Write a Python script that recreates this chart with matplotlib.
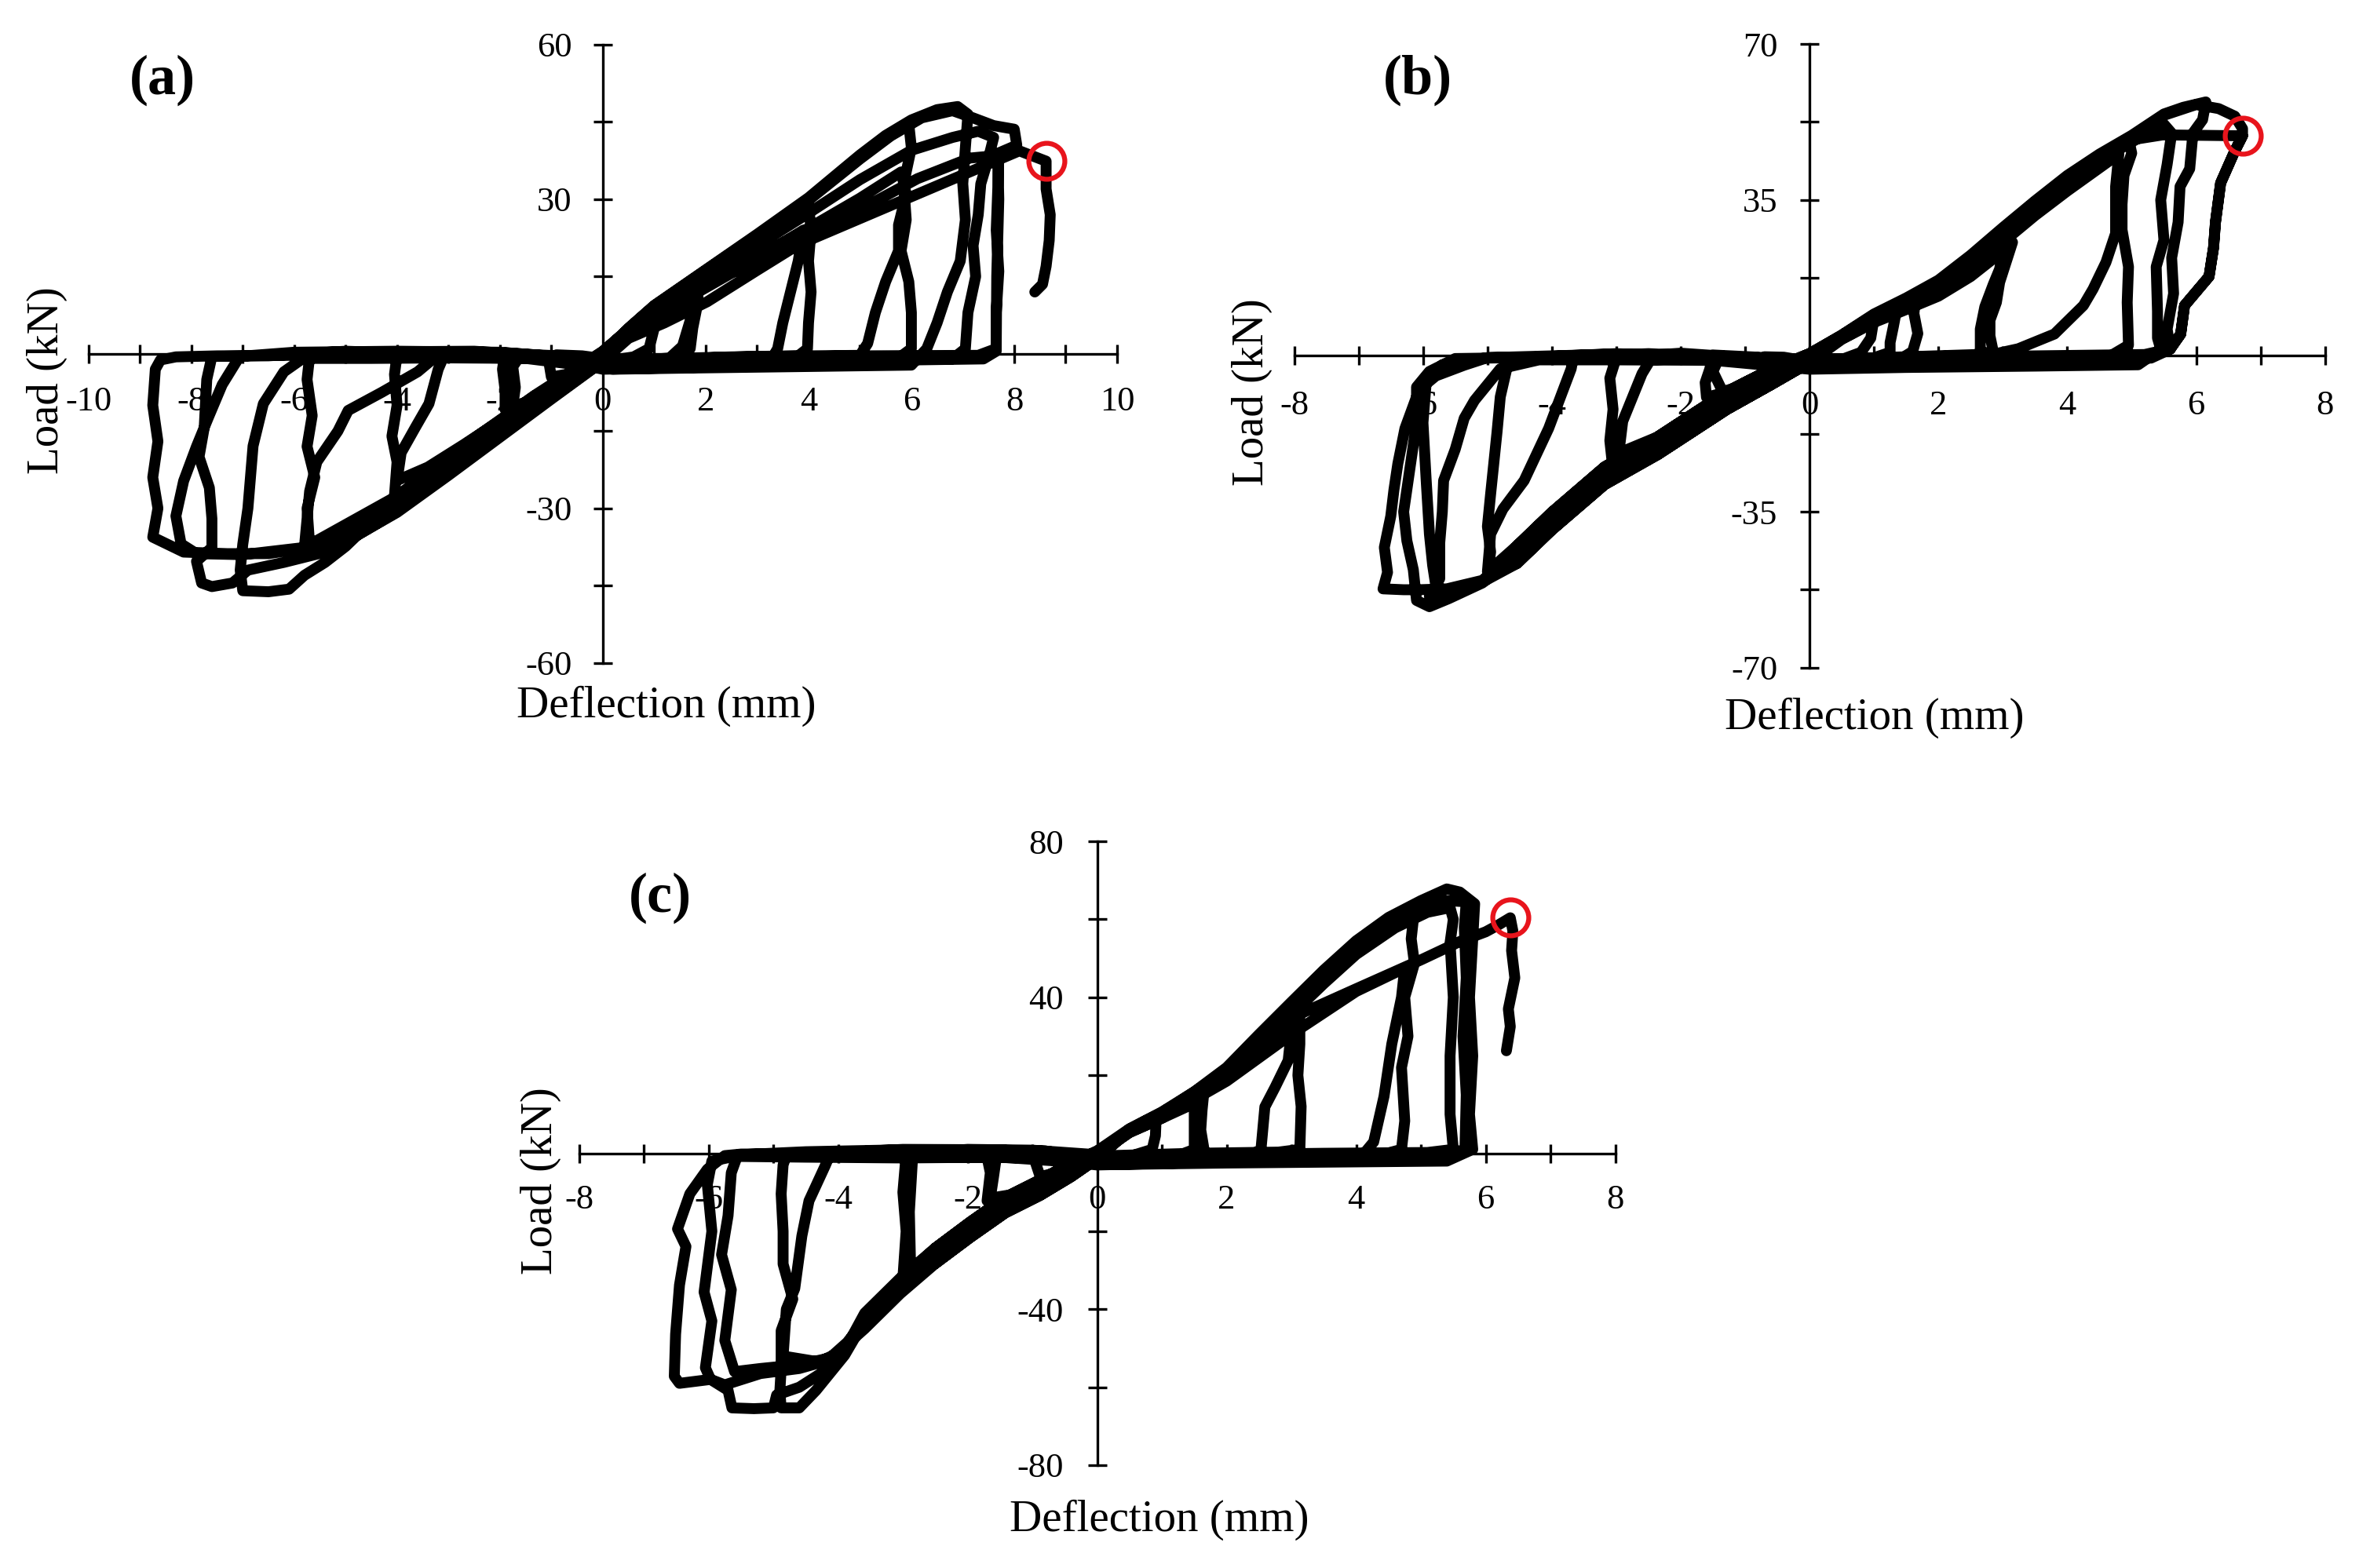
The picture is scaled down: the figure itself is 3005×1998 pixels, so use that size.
import numpy as np
import matplotlib
matplotlib.use('Agg')
import matplotlib.pyplot as plt
from matplotlib.ticker import FixedLocator, NullFormatter

plt.rcParams['font.family'] = ['Liberation Serif', 'DejaVu Serif']
plt.rcParams['axes.unicode_minus'] = False

W, H, DPI = 3005, 1998, 100

# ---------------- data: (deflection mm, load kN) load history per specimen
loop_a = [
    # cycle 1
    (0.0, 0.0), (0.3, 2.8), (0.6, 5.3), (0.95, 8.3), (1.0, 5.0), (0.9, 1.0), (0.6, -0.6), (0.2, -1.2),
    (-0.4, -0.4), (-0.9, -0.2), (-1.05, -1.5), (-1.0, -4.5), (-0.6, -3.8), (-0.2, -1.5), (0.0, 0.0),
    # cycle 2
    (0.5, 4.6), (1.0, 8.9), (1.4, 11.6), (1.85, 14.2), (1.85, 10.0), (1.75, 5.0), (1.7, 1.0), (1.5, -0.9),
    (0.8, -1.3), (0.1, -1.6),
    (-0.6, -0.5), (-1.3, -0.2), (-1.9, 0.2), (-1.95, -3.0), (-1.9, -7.0), (-1.9, -10.8), (-1.5, -9.6),
    (-1.0, -6.8), (-0.5, -3.6), (0.0, -0.3),
    # cycle 3
    (0.5, 3.8), (1.0, 7.0), (1.5, 9.5), (1.75, 10.6), (1.7, 6.5), (1.55, 1.5), (1.3, -0.8), (0.6, -1.4), (0.0, -1.5),
    (-0.8, -0.4), (-1.6, -0.3), (-1.75, -2.5), (-1.7, -6.5), (-1.75, -10.2), (-1.3, -8.8), (-0.7, -5.0), (0.0, -0.2),
    # cycle 4
    (0.5, 4.8), (1.0, 9.2), (1.5, 12.4), (2.0, 15.8), (2.5, 19.2), (3.0, 22.6), (3.5, 25.8), (4.0, 29.0),
    (4.05, 24.0), (4.0, 18.0), (4.05, 12.0), (4.0, 6.0), (3.98, 1.0), (3.8, -0.4), (3.0, -0.5), (2.0, -0.8),
    (1.0, -1.2), (0.3, -1.8),
    (-0.5, -0.6), (-1.5, -0.3), (-2.5, 0.4), (-3.5, 0.3), (-4.0, -0.2), (-4.05, -4.0), (-4.0, -10.0),
    (-4.1, -16.0), (-4.0, -21.0), (-4.05, -27.5), (-3.4, -25.2), (-2.7, -20.5), (-2.0, -15.8), (-1.33, -10.8),
    (-0.6, -5.6), (0.0, -1.2),
    # cycle 5
    (0.5, 3.6), (1.0, 7.2), (2.0, 12.8), (3.0, 18.5), (3.9, 24.0), (3.8, 18.0), (3.65, 12.0), (3.5, 6.0),
    (3.4, 1.0), (3.2, -2.4), (2.0, -2.6), (1.0, -2.8), (0.0, -3.0),
    (-1.0, -0.9), (-2.2, -0.8), (-3.1, -0.7), (-3.2, -3.0), (-3.38, -9.7), (-3.65, -14.4), (-3.92, -19.2),
    (-4.0, -24.6), (-3.4, -22.0), (-2.7, -17.6), (-2.0, -13.0), (-1.33, -8.2), (-0.6, -3.8), (0.0, 0.3),
    # cycle 6
    (0.5, 4.9), (1.0, 9.3), (2.0, 16.2), (3.0, 23.0), (4.0, 30.0), (5.0, 38.3), (5.5, 41.8), (5.95, 44.6),
    (6.0, 40.0), (5.85, 33.0), (5.9, 26.0), (5.8, 20.0), (5.95, 14.0), (6.0, 8.0), (6.0, 1.0), (5.7, -1.2),
    (4.5, -1.4), (3.0, -1.7), (1.5, -2.0), (0.2, -2.4),
    (-1.0, -0.5), (-2.5, 0.5), (-4.0, 0.4), (-5.2, -0.4), (-5.7, -0.5), (-5.75, -5.0), (-5.65, -12.0),
    (-5.75, -18.0), (-5.6, -24.0), (-5.75, -30.0), (-5.7, -37.0), (-5.0, -36.5), (-4.0, -30.8), (-3.0, -23.6),
    (-2.0, -16.2), (-1.0, -8.8), (0.0, -1.5),
    # cycle 7
    (0.5, 3.9), (1.0, 7.6), (2.0, 13.2), (3.0, 18.8), (4.0, 24.4), (5.0, 30.2), (5.8, 35.3), (5.9, 31.0),
    (5.75, 25.0), (5.75, 20.0), (5.5, 14.0), (5.3, 8.0), (5.15, 2.0), (5.0, -0.3), (4.0, -0.4), (2.5, -0.6),
    (1.0, -1.0), (0.0, -1.4),
    (-1.2, -0.4), (-2.4, -0.2), (-3.24, -0.5), (-3.6, -3.5), (-4.3, -7.5), (-4.95, -11.0), (-5.15, -15.0),
    (-5.56, -21.0), (-5.7, -26.7), (-5.75, -32.0), (-5.8, -37.4), (-4.8, -34.0), (-4.0, -29.0), (-3.0, -21.8),
    (-2.0, -14.4), (-1.0, -7.2), (0.0, -0.4),
    # cycle 8
    (0.5, 5.0), (1.0, 9.4), (2.0, 16.3), (3.0, 23.2), (4.0, 30.3), (5.0, 38.6), (5.5, 42.4), (6.0, 45.4),
    (6.5, 47.4), (6.9, 48.0), (7.1, 46.5), (7.05, 40.0), (7.0, 33.0), (7.05, 26.0), (6.95, 18.0), (6.7, 12.0),
    (6.5, 6.0), (6.3, 1.0), (6.0, -2.2), (4.5, -2.4), (3.0, -2.6), (1.5, -2.8), (0.2, -3.0),
    (-1.5, -0.9), (-3.0, -0.8), (-4.5, -0.9), (-5.83, -0.9), (-6.2, -3.5), (-6.6, -9.7), (-6.8, -17.9),
    (-6.85, -24.0), (-6.9, -30.0), (-7.0, -37.0), (-7.05, -42.0), (-7.0, -46.0), (-6.5, -46.2), (-6.1, -45.7),
    (-5.8, -43.0), (-5.4, -40.5), (-5.0, -37.4), (-4.0, -27.8), (-3.0, -20.6), (-2.0, -13.3), (-1.0, -6.3),
    (0.0, 0.4),
    # cycle 9
    (0.5, 4.8), (1.0, 9.0), (2.0, 16.0), (3.0, 22.8), (4.0, 29.8), (5.0, 37.8), (5.6, 42.3), (6.2, 45.8),
    (6.8, 47.2), (7.2, 45.8), (7.6, 44.3), (8.0, 43.6), (8.05, 40.5), (7.7, 39.0), (7.68, 32.0), (7.65, 24.0),
    (7.7, 16.0), (7.65, 8.0), (7.65, 0.5), (7.4, -1.0), (6.0, -1.2), (4.0, -1.4), (2.0, -1.8), (0.3, -2.0),
    (-1.5, -0.4), (-3.0, -0.2), (-5.0, 0.5), (-6.5, -0.4), (-7.6, -0.5), (-7.7, -5.0), (-7.75, -14.4),
    (-7.85, -20.0), (-7.65, -26.0), (-7.6, -32.0), (-7.6, -37.6), (-7.9, -40.3), (-7.8, -44.5), (-7.6, -45.2),
    (-7.2, -44.5), (-6.9, -42.0), (-6.2, -40.5), (-5.4, -38.5), (-5.0, -36.5), (-4.0, -29.4), (-3.0, -22.0),
    (-2.0, -14.5), (-1.0, -7.4), (0.0, -0.5),
    # cycle 10
    (0.5, 4.2), (1.0, 8.2), (2.0, 14.5), (3.0, 21.0), (4.0, 27.3), (5.0, 33.8), (6.0, 39.5), (6.8, 42.0),
    (7.3, 43.2), (7.6, 42.0), (7.5, 38.0), (7.35, 33.0), (7.3, 27.0), (7.2, 21.0), (7.25, 15.0), (7.1, 8.0),
    (7.05, 1.0), (6.8, -1.0), (5.0, -1.2), (3.0, -1.5), (1.0, -1.9), (0.0, -2.0),
    (-2.0, -0.3), (-4.0, -0.2), (-6.0, -0.3), (-7.5, -0.4), (-8.3, -0.6), (-8.6, -1.2), (-8.7, -3.0),
    (-8.75, -10.0), (-8.65, -17.0), (-8.75, -24.0), (-8.65, -30.0), (-8.75, -35.6), (-8.15, -38.5),
    (-7.3, -38.8), (-6.5, -38.8), (-5.83, -37.8), (-5.0, -36.6), (-4.06, -31.0), (-2.7, -21.0), (-1.33, -11.0),
    (0.0, -1.4),
    # cycle 11
    (0.5, 3.0), (1.2, 6.0), (2.03, 10.1), (3.0, 16.2), (4.0, 22.4), (5.0, 28.0), (6.12, 34.0), (7.14, 38.0),
    (7.68, 38.5), (7.7, 30.0), (7.66, 15.0), (7.65, 1.0), (7.3, -0.3), (5.0, -0.4), (2.5, -0.7), (0.0, -1.2),
    (-2.0, 0.3), (-4.0, 0.5), (-6.0, 0.3), (-7.06, -0.5), (-7.4, -6.0), (-7.67, -12.4), (-7.9, -18.0),
    (-8.15, -24.7), (-8.3, -31.5), (-8.2, -36.9), (-7.9, -38.8), (-7.0, -39.0), (-5.8, -37.6), (-4.0, -27.6),
    (-2.7, -17.8), (-1.33, -8.1), (0.0, 0.5),
    # final loading
    (0.5, 4.8), (1.0, 9.0), (1.3, 10.8), (2.0, 13.6), (4.0, 22.0), (6.0, 30.5), (8.1, 39.4), (8.62, 37.4),
    (8.62, 32.0), (8.7, 27.0), (8.68, 22.0), (8.62, 17.0), (8.55, 13.5), (8.4, 12.0),
]

loop_b = [
    # cycle 1
    (0.0, 0.0), (0.4, 3.4), (0.7, 6.0), (1.0, 8.4), (0.95, 4.0), (0.8, 0.8), (0.5, -0.8), (0.1, -1.5),
    (-0.4, -0.3), (-0.7, -0.2), (-0.75, -2.5), (-0.6, -4.5), (-0.3, -2.5), (0.0, -0.2),
    # cycle 2
    (0.5, 4.5), (1.0, 9.0), (1.65, 13.8), (1.62, 9.5), (1.68, 5.0), (1.6, 1.0), (1.4, -0.8), (0.6, -1.2),
    (0.0, -1.4),
    (-0.8, -0.3), (-1.5, 0.2), (-1.55, -3.0), (-1.62, -6.0), (-1.6, -9.3), (-1.0, -7.0), (-0.5, -4.0),
    (0.0, -0.5),
    # cycle 3
    (0.5, 3.8), (1.0, 7.6), (1.35, 10.3), (1.3, 6.5), (1.25, 3.0), (1.25, 0.8), (0.9, -0.9), (0.2, -1.3),
    (-0.8, -0.4), (-1.4, -0.3), (-1.5, -3.5), (-1.35, -8.0), (-0.8, -5.8), (0.0, -0.4),
    # cycle 4
    (0.5, 4.0), (1.0, 8.2), (1.5, 11.0), (2.0, 14.0), (2.5, 18.6), (2.85, 22.5), (3.15, 25.5), (3.05, 21.0),
    (2.95, 16.5), (2.9, 12.0), (2.8, 8.0), (2.8, 4.5), (2.85, 1.0), (2.6, 0.3), (1.5, -0.2), (0.2, -0.8),
    (-1.0, -0.4), (-2.0, 0.6), (-3.0, -0.4), (-3.1, -5.0), (-3.05, -12.0), (-3.1, -19.0), (-3.05, -25.7),
    (-2.36, -22.2), (-1.28, -12.0), (-0.6, -6.5), (0.0, -1.5),
    # cycle 5
    (0.5, 3.7), (1.0, 7.5), (1.5, 10.4), (2.0, 13.4), (2.5, 17.8), (3.0, 23.5), (2.95, 19.5), (2.85, 16.0),
    (2.72, 11.0), (2.65, 6.0), (2.65, 1.0), (2.4, -2.0), (1.2, -2.4), (0.0, -2.8),
    (-1.0, -0.8), (-2.0, -0.7), (-2.47, -0.9), (-2.6, -4.0), (-2.9, -14.7), (-2.96, -21.8), (-2.36, -18.2),
    (-1.28, -8.0), (-0.6, -3.0), (0.0, 0.5),
    # cycle 6
    (0.5, 4.6), (1.0, 9.2), (1.5, 12.6), (2.0, 16.6), (2.5, 21.8), (3.0, 28.0), (3.5, 34.4), (4.0, 40.2),
    (4.5, 45.0), (4.95, 48.8), (5.0, 45.5), (4.88, 40.5), (4.85, 34.0), (4.85, 28.3), (4.95, 20.0),
    (4.93, 12.0), (4.95, 2.4), (4.6, -0.6), (3.5, -0.9), (2.0, -1.2), (0.5, -1.6),
    (-1.0, -0.5), (-2.5, 0.5), (-4.0, -0.4), (-4.65, -0.8), (-4.7, -2.9), (-4.8, -9.2), (-4.85, -17.0),
    (-4.9, -24.0), (-4.95, -31.0), (-5.0, -38.3), (-4.95, -44.0), (-5.0, -49.5), (-4.54, -46.6),
    (-4.0, -39.1), (-3.18, -28.9), (-2.36, -22.2), (-1.28, -12.0), (-0.6, -6.5), (0.0, -1.5),
    # cycle 7
    (0.5, 4.0), (1.0, 8.0), (1.5, 11.0), (2.0, 14.6), (2.5, 19.5), (3.0, 25.5), (3.5, 31.5), (4.0, 37.0),
    (4.5, 42.2), (4.8, 45.3), (4.75, 38.0), (4.75, 27.5), (4.6, 21.0), (4.4, 15.0), (4.25, 11.3), (3.8, 4.9),
    (3.24, 1.6), (2.8, 0.2), (1.5, -0.3), (0.0, -0.8),
    (-1.0, -0.4), (-2.5, -0.3), (-3.67, -0.5), (-3.7, -2.9), (-4.05, -16.3), (-4.43, -28.0), (-4.76, -34.4),
    (-4.95, -40.0), (-5.0, -48.5), (-4.54, -42.6), (-4.0, -35.1), (-3.18, -24.9), (-2.36, -18.2),
    (-1.28, -8.0), (-0.6, -3.0), (0.0, 0.5),
    # cycle 8
    (0.5, 4.7), (1.0, 9.4), (1.5, 13.0), (2.0, 17.0), (2.5, 22.6), (3.0, 28.8), (3.5, 34.8), (4.0, 40.5),
    (4.5, 45.3), (5.0, 49.5), (5.5, 54.3), (5.8, 55.8), (6.15, 57.0), (6.1, 53.0), (5.95, 50.0), (5.9, 42.0),
    (5.75, 38.0), (5.72, 30.0), (5.62, 22.0), (5.65, 14.0), (5.55, 6.0), (5.6, 1.5), (5.3, -0.5), (4.0, -0.8),
    (2.5, -1.1), (1.0, -1.4), (0.0, -1.8),
    (-1.5, -0.4), (-3.0, 0.5), (-4.5, -0.4), (-5.5, -0.6), (-5.9, -3.5), (-6.1, -7.0), (-6.1, -15.0),
    (-6.2, -25.0), (-6.3, -35.0), (-6.25, -41.5), (-6.15, -48.0), (-6.1, -54.9), (-5.9, -56.3), (-5.6, -54.5),
    (-5.08, -51.0), (-4.54, -45.0), (-4.0, -37.4), (-3.18, -27.2), (-2.36, -20.4), (-1.28, -10.2),
    (-0.6, -4.9), (0.0, -0.6),
    # cycle 9
    (0.5, 4.2), (1.0, 8.5), (1.5, 11.6), (2.0, 15.2), (2.5, 20.6), (3.0, 26.8), (3.5, 33.0), (4.0, 38.6),
    (4.5, 43.8), (5.0, 48.0), (5.5, 52.0), (5.62, 50.0), (5.55, 43.0), (5.45, 35.0), (5.5, 26.0),
    (5.38, 20.0), (5.4, 10.0), (5.4, 4.0), (5.45, 1.5), (5.1, -2.0), (3.5, -2.3), (1.5, -2.6), (0.0, -3.0),
    (-1.5, -1.0), (-3.0, -0.9), (-4.2, -0.9), (-4.8, -2.9), (-5.2, -10.0), (-5.36, -14.0), (-5.5, -21.0),
    (-5.68, -28.0), (-5.7, -35.0), (-5.74, -42.0), (-5.74, -50.0), (-5.9, -54.0), (-5.63, -52.8),
    (-5.08, -50.6), (-4.54, -42.6), (-4.0, -35.1), (-3.18, -24.9), (-2.36, -18.2), (-1.28, -8.0),
    (-0.6, -3.0), (0.0, 0.5),
    # cycle 10
    (0.5, 4.4), (1.0, 8.8), (1.5, 12.0), (2.0, 15.6), (2.5, 21.0), (3.0, 27.4), (3.5, 33.6), (4.0, 39.5),
    (4.5, 44.5), (5.0, 48.5), (5.48, 49.6), (6.72, 49.4), (6.6, 46.0), (6.38, 38.8), (6.3, 30.0),
    (6.27, 24.3), (6.2, 17.8), (5.82, 11.3), (5.76, 4.9), (5.6, 1.6), (5.2, 0.3), (3.5, 0.0), (1.5, -0.4),
    (0.0, -1.0),
    (-1.5, -0.4), (-3.0, 0.4), (-5.0, -0.4), (-5.7, -2.0), (-5.95, -6.0), (-6.0, -15.0), (-5.95, -28.0),
    (-5.9, -40.0), (-5.85, -47.0), (-5.8, -51.7), (-5.6, -53.0), (-5.08, -50.8), (-4.54, -46.6),
    (-4.0, -39.1), (-3.18, -28.9), (-2.36, -22.2), (-1.28, -12.0), (-0.6, -6.5), (0.0, -1.5),
    # cycle 11
    (0.5, 4.6), (1.0, 9.1), (1.5, 12.7), (2.0, 16.4), (2.5, 22.0), (3.0, 28.4), (3.5, 34.6), (4.0, 40.0),
    (4.5, 45.0), (5.0, 49.2), (5.5, 54.0), (6.0, 56.4), (6.35, 55.5), (6.6, 53.8), (6.72, 51.0),
    (6.72, 49.4), (6.6, 46.0), (6.38, 38.8), (6.3, 30.0), (6.27, 24.3), (6.2, 17.8), (5.82, 11.3),
    (5.76, 4.9), (5.6, 1.6), (5.2, -0.5), (3.5, -0.9), (1.5, -1.3), (0.0, -1.7),
    (-1.5, -0.4), (-3.0, -0.3), (-4.5, -0.3), (-5.0, -0.4), (-5.36, -2.1), (-5.8, -4.5), (-6.06, -7.6),
    (-6.28, -16.3), (-6.39, -24.2), (-6.45, -30.0), (-6.5, -36.0), (-6.6, -43.0), (-6.55, -48.6),
    (-6.62, -52.3), (-6.3, -52.5), (-6.06, -52.5), (-5.63, -52.3), (-5.08, -50.4), (-4.54, -44.2),
    (-4.0, -36.8), (-3.18, -26.6), (-2.36, -19.9), (-1.28, -9.8), (-0.6, -4.6), (0.0, -0.4),
]

loop_c = [
    # cycle 1
    (0.0, 0.0), (0.3, 3.6), (0.6, 6.6), (0.91, 8.6), (0.9, 4.5), (0.85, 1.0), (0.5, -0.8), (0.1, -1.5),
    (-0.4, -0.2), (-0.9, 0.0), (-0.95, -2.5), (-0.88, -6.0), (-0.4, -4.0), (0.0, -0.3),
    # cycle 2
    (0.5, 6.2), (1.0, 10.4), (1.3, 13.0), (1.65, 16.0), (1.62, 11.0), (1.6, 6.0), (1.65, 1.0), (1.4, -0.8),
    (0.6, -1.3), (0.0, -1.6),
    (-0.8, 0.6), (-1.6, 0.8), (-1.7, -1.0), (-1.65, -5.0), (-1.7, -12.2), (-1.2, -11.0), (-0.6, -6.0),
    (0.0, -0.4),
    # cycle 3
    (0.5, 5.3), (1.0, 9.0), (1.5, 12.8), (1.5, 8.0), (1.5, 1.0), (1.2, -0.9), (0.3, -1.4),
    (-0.8, -0.3), (-1.55, -0.2), (-1.6, -6.0), (-1.65, -11.5), (-1.1, -10.0), (-0.5, -5.0), (0.0, -0.3),
    # cycle 4
    (0.5, 6.0), (1.0, 10.2), (1.5, 15.0), (2.0, 20.5), (2.5, 27.0), (3.13, 34.5), (3.13, 28.0), (3.1, 20.0),
    (3.15, 12.0), (3.13, 1.0), (2.8, 0.3), (1.5, 0.0), (0.2, -0.6),
    (-1.0, 0.8), (-2.0, 1.0), (-2.95, -0.3), (-3.0, -10.0), (-2.95, -20.0), (-3.0, -32.0), (-2.5, -24.3),
    (-1.96, -17.6), (-1.42, -11.3), (-0.88, -6.8), (-0.4, -2.5), (0.0, 0.6),
    # cycle 5
    (0.5, 5.5), (1.0, 9.5), (2.0, 19.5), (2.7, 27.5), (3.0, 31.5), (2.95, 23.8), (2.75, 17.0), (2.59, 11.9),
    (2.53, 1.0), (2.2, -2.2), (1.0, -2.6), (0.0, -3.0),
    (-1.0, -1.2), (-2.0, -1.0), (-2.85, -1.0), (-2.9, -15.0), (-2.88, -30.0), (-2.5, -28.3), (-1.96, -21.6),
    (-1.42, -15.3), (-0.88, -10.8), (-0.4, -6.0), (0.0, -1.4),
    # cycle 6
    (0.5, 6.2), (1.0, 10.5), (1.5, 15.5), (2.0, 21.5), (2.5, 29.5), (3.0, 37.5), (3.5, 45.5), (4.0, 53.0),
    (4.5, 59.0), (4.9, 62.5), (4.85, 55.0), (4.9, 48.7), (4.75, 40.0), (4.8, 30.0), (4.7, 22.0), (4.75, 8.3),
    (4.7, 1.0), (4.3, -0.8), (3.0, -1.0), (1.5, -1.4), (0.2, -1.9),
    (-1.5, 0.9), (-3.0, 1.0), (-4.5, -0.2), (-4.8, -0.5), (-4.85, -3.0), (-4.88, -10.4), (-4.85, -20.0),
    (-4.85, -28.4), (-4.7, -37.4), (-4.88, -45.5), (-4.88, -55.4), (-4.9, -61.0), (-4.88, -65.3),
    (-4.6, -65.3), (-4.34, -60.8), (-3.9, -51.8), (-3.59, -43.0), (-3.04, -34.0), (-2.5, -26.3),
    (-1.96, -19.6), (-1.42, -13.3), (-0.88, -8.8), (-0.4, -4.2), (0.0, -0.4),
    # cycle 7
    (0.5, 5.4), (1.0, 9.0), (2.0, 18.5), (3.0, 30.5), (4.0, 41.5), (4.75, 47.5), (4.7, 40.0), (4.55, 28.0),
    (4.43, 14.6), (4.27, 2.9), (4.1, -0.5), (3.0, -1.0), (1.5, -1.3), (0.0, -1.7),
    (-1.5, -0.2), (-3.0, 0.0), (-4.13, -0.5), (-4.2, -3.2), (-4.45, -12.2), (-4.56, -21.2), (-4.67, -34.7),
    (-4.8, -40.0), (-4.85, -52.0), (-4.3, -53.5), (-3.9, -50.5), (-3.59, -41.0), (-3.04, -32.0),
    (-2.5, -24.3), (-1.96, -17.6), (-1.42, -11.3), (-0.88, -6.8), (-0.4, -2.5), (0.0, 0.6),
    # cycle 8
    (0.5, 6.3), (1.0, 10.6), (1.5, 15.8), (2.0, 22.0), (2.5, 30.5), (3.0, 38.8), (3.5, 47.0), (4.0, 54.5),
    (4.5, 60.5), (5.0, 64.8), (5.4, 67.8), (5.6, 67.0), (5.83, 64.0), (5.8, 55.0), (5.75, 40.0),
    (5.8, 25.0), (5.75, 10.0), (5.8, 1.0), (5.4, -2.0), (4.0, -2.2), (2.0, -2.5), (0.2, -2.9),
    (-1.5, -1.0), (-3.0, -1.2), (-4.5, -1.0), (-5.6, -0.8), (-5.95, -2.0), (-6.02, -8.0), (-5.95, -20.0),
    (-6.07, -35.6), (-5.95, -43.0), (-6.05, -55.0), (-5.97, -58.0), (-5.7, -60.8), (-5.64, -65.3),
    (-5.3, -65.5), (-5.0, -65.3), (-4.95, -62.0), (-4.6, -60.0), (-4.13, -55.0), (-3.86, -49.0),
    (-3.59, -45.0), (-3.04, -36.0), (-2.5, -28.3), (-1.96, -21.6), (-1.42, -15.3), (-0.88, -10.8),
    (-0.4, -6.0), (0.0, -1.4),
    # cycle 9
    (0.5, 5.8), (1.0, 10.0), (2.0, 20.5), (3.0, 35.5), (3.5, 43.5), (4.0, 51.0), (4.6, 57.8), (5.1, 61.8),
    (5.45, 63.0), (5.5, 60.0), (5.45, 54.0), (5.5, 40.0), (5.45, 25.0), (5.45, 10.0), (5.5, 1.0), (5.1, 0.2),
    (3.5, 0.0), (1.5, -0.4), (0.0, -0.9),
    (-1.5, 0.8), (-3.0, 0.9), (-4.5, 0.4), (-5.55, -0.4), (-5.65, -5.0), (-5.7, -16.0), (-5.8, -26.0),
    (-5.65, -35.0), (-5.75, -48.0), (-5.6, -56.0), (-5.2, -55.2), (-4.6, -54.2), (-4.13, -52.5),
    (-3.86, -48.5), (-3.59, -42.8), (-3.04, -33.8), (-2.5, -26.1), (-1.96, -19.4), (-1.42, -13.1),
    (-0.88, -8.6), (-0.4, -4.1), (0.0, -0.3),
    # cycle 10
    (0.5, 6.0), (1.0, 10.3), (2.0, 21.2), (3.0, 37.0), (3.5, 45.0), (4.0, 52.5), (4.5, 58.3), (5.0, 62.8),
    (5.4, 64.8), (5.7, 64.5), (5.67, 58.0), (5.7, 45.0), (5.65, 30.0), (5.7, 15.0), (5.68, 1.0), (5.3, -0.8),
    (3.5, -1.0), (1.5, -1.4), (0.0, -1.8),
    (-1.5, -0.3), (-3.0, 0.0), (-4.5, -0.1), (-5.5, -0.2), (-5.75, -0.6), (-6.02, -4.1), (-6.29, -10.4),
    (-6.48, -19.4), (-6.35, -23.9), (-6.45, -33.8), (-6.51, -46.4), (-6.53, -57.2), (-6.45, -59.0),
    (-5.97, -58.0), (-5.75, -59.4), (-5.2, -56.5), (-4.6, -55.2), (-4.13, -53.0), (-3.86, -49.0),
    (-3.59, -43.0), (-3.04, -34.0), (-2.5, -26.3), (-1.96, -19.6), (-1.42, -13.3), (-0.88, -8.8),
    (-0.4, -4.2), (0.0, 0.0),
    # final loading
    (0.5, 6.0), (1.0, 10.3), (2.0, 21.0), (2.9, 34.0), (4.0, 42.2), (5.0, 49.6), (5.6, 54.3), (6.0, 56.8),
    (6.2, 58.6), (6.38, 60.4), (6.42, 57.0), (6.4, 52.0), (6.45, 45.0), (6.35, 37.0), (6.38, 32.5),
    (6.32, 26.3),
]

# failure points (red circles)
fail_a = (8.62, 37.4)
fail_b = (6.72, 49.4)
fail_c = (6.38, 60.4)

# axis ranges and tick steps
xlim_a, ylim_a, ystep_a = (-10, 10), (-60, 60), 15
xlim_b, ylim_b, ystep_b = (-8, 8), (-70, 70), 17.5
xlim_c, ylim_c, ystep_c = (-8, 8), (-80, 80), 20


def fmt(v):
    return f"{v:g}"


def make_panel(fig, box, loop, fail, xlim, ylim, ystep, xpad, ypad):
    x0, x1, ytop, ybot = box
    ax = fig.add_axes([x0 / W, 1 - ybot / H, (x1 - x0) / W, (ybot - ytop) / H])
    ax.set_xlim(xlim)
    ax.set_ylim(ylim)
    ax.patch.set_alpha(0)
    for s in ['top', 'right']:
        ax.spines[s].set_visible(False)
    for s in ['left', 'bottom']:
        ax.spines[s].set_position(('data', 0))
        ax.spines[s].set_linewidth(2.4)

    xmaj = np.arange(xlim[0], xlim[1] + 0.1, 2)
    xmin = np.arange(xlim[0] + 1, xlim[1], 2)
    ax.xaxis.set_major_locator(FixedLocator(xmaj))
    ax.xaxis.set_minor_locator(FixedLocator(xmin))
    ax.set_xticklabels([fmt(v) for v in xmaj])

    ymaj = [ylim[0], ylim[0] / 2, ylim[1] / 2, ylim[1]]
    ymin = [-3 * ystep, -ystep, ystep, 3 * ystep]
    ax.yaxis.set_major_locator(FixedLocator(ymaj))
    ax.yaxis.set_minor_locator(FixedLocator(ymin))
    ax.set_yticklabels([fmt(v) for v in ymaj])
    ax.yaxis.set_minor_formatter(NullFormatter())

    ax.tick_params(axis='both', which='both', direction='inout', length=17, width=2.4,
                   labelsize=32, color='black')
    ax.tick_params(axis='x', which='both', pad=xpad)
    ax.tick_params(axis='y', which='both', pad=ypad)

    pts = np.array(loop)
    ax.plot(pts[:, 0], pts[:, 1], color='black', lw=10, solid_joinstyle='round',
            solid_capstyle='round', zorder=3, clip_on=False)
    ax.plot([fail[0]], [fail[1]], 'o', ms=33, mfc='none', mec='#e8141c', mew=4.5,
            zorder=4, clip_on=False)
    return ax


fig = plt.figure(figsize=(W / DPI, H / DPI), dpi=DPI)

make_panel(fig, (112.7, 1423.0, 57.0, 844.6), loop_a, fail_a, xlim_a, ylim_a, ystep_a, 21, 20)
make_panel(fig, (1648.5, 2961.7, 56.1, 850.8), loop_b, fail_b, xlim_b, ylim_b, ystep_b, 23, 21)
make_panel(fig, (737.7, 2057.5, 1072.1, 1867.0), loop_c, fail_c, xlim_c, ylim_c, ystep_c, 20, 22)


def ftext(x, y, s, **kw):
    fig.text(x / W, 1 - y / H, s, ha='center', va='center', **kw)


for (lx, ly), letter in zip([(207, 102), (1806, 102), (841, 1144)], ['(a)', '(b)', '(c)']):
    ftext(lx, ly, letter, fontsize=52, fontweight='bold')
for dx, dy in [(849, 900), (2388, 915), (1477, 1937)]:
    ftext(dx, dy, 'Deflection (mm)', fontsize=41)
for lx, ly in [(60, 485), (1595, 500), (689, 1505)]:
    ftext(lx, ly, 'Load (kN)', fontsize=41, rotation=90)

fig.savefig('out.png', dpi=DPI)
